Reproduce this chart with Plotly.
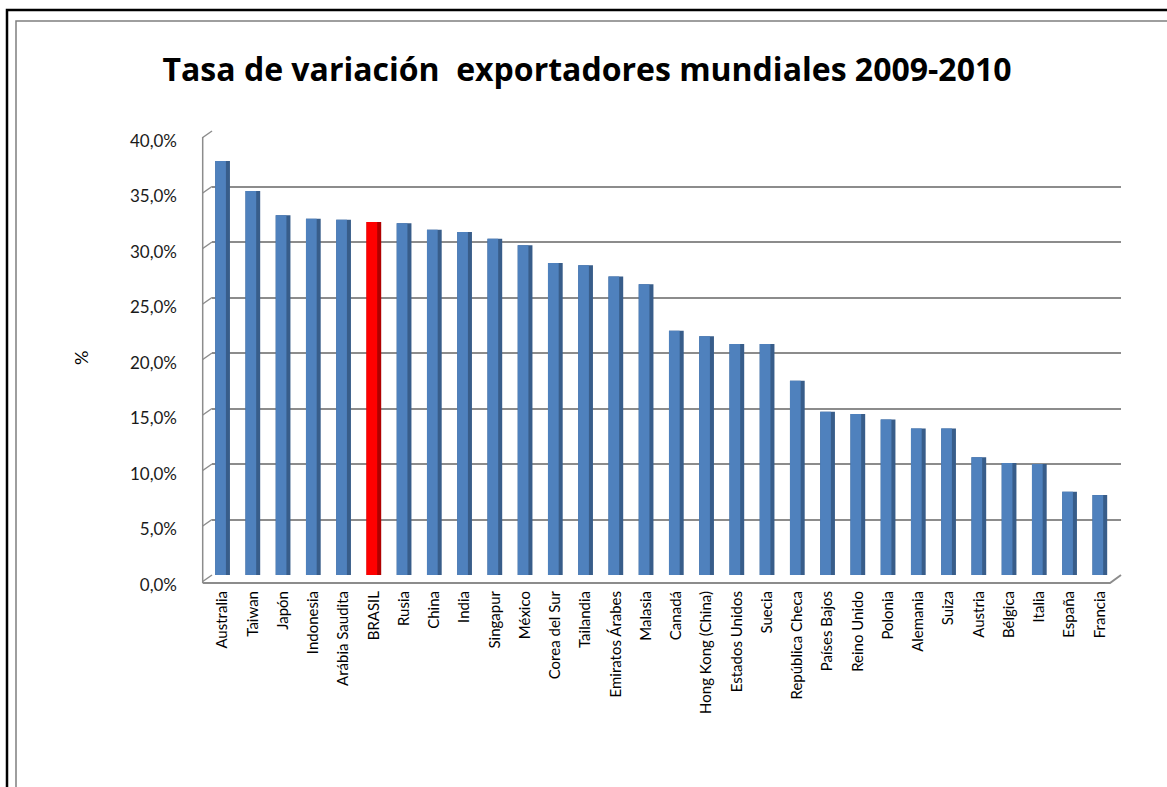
import plotly.graph_objects as go

# Export growth 2009-2010 by country (%)
countries = [
    "Australia", "Taiwan", "Japón", "Indonesia", "Arábia Saudita", "BRASIL",
    "Rusia", "China", "India", "Singapur", "México", "Corea del Sur",
    "Tailandia", "Emiratos Árabes", "Malasia", "Canadá", "Hong Kong (China)",
    "Estados Unidos", "Suecia", "República Checa", "Países Bajos",
    "Reino Unido", "Polonia", "Alemania", "Suiza", "Austria", "Bélgica",
    "Italia", "España", "Francia",
]
growth = [
    37.3, 34.6, 32.4, 32.1, 32.0, 31.8,
    31.7, 31.1, 30.9, 30.3, 29.7, 28.1,
    27.9, 26.9, 26.2, 22.0, 21.5,
    20.8, 20.8, 17.5, 14.7,
    14.5, 14.0, 13.2, 13.2, 10.6, 10.1,
    10.0, 7.5, 7.2,
]
highlight = "BRASIL"

y_tickvals = [0, 5, 10, 15, 20, 25, 30, 35, 40]
y_ticktext = ["0,0%", "5,0%", "10,0%", "15,0%", "20,0%", "25,0%",
              "30,0%", "35,0%", "40,0%"]

# Page geometry (pixels)
WIDTH, HEIGHT = 1167, 787
L, R, T, B = 212, 1121, 131, 575


def px(x):
    return (x - L) / (R - L)


def py(y):
    return (B - y) / (B - T)


front_colors = ["#FF0000" if c == highlight else "#4F81BD" for c in countries]
side_colors = ["#B00000" if c == highlight else "#385D8A" for c in countries]

fig = go.Figure()
# darker side face of each column
fig.add_trace(go.Bar(
    x=countries, y=growth, offset=-0.2435, width=0.487,
    marker=dict(color=side_colors, line=dict(width=0)),
    hoverinfo="skip", showlegend=False,
))
# front face
fig.add_trace(go.Bar(
    x=countries, y=growth, offset=-0.2435, width=0.354,
    marker=dict(color=front_colors, line=dict(width=0)),
    hovertemplate="%{x}: %{y:.1f}%<extra></extra>", showlegend=False,
))

shapes = []
grid = "#8C8C8C"
# frames around the chart
shapes.append(dict(type="rect", xref="paper", yref="paper",
                   x0=px(7), x1=px(1200), y0=py(10), y1=py(820),
                   line=dict(color="black", width=2.5), layer="below"))
shapes.append(dict(type="rect", xref="paper", yref="paper",
                   x0=px(16), x1=px(1200), y0=py(21), y1=py(820),
                   line=dict(color="#7F7F7F", width=1.5), layer="below"))
# side wall: front edge and slanted stubs at each gridline
shapes.append(dict(type="line", xref="paper", yref="paper",
                   x0=px(202.7), x1=px(202.7), y0=py(583), y1=py(137),
                   line=dict(color=grid, width=1.5)))
for v in y_tickvals:
    gy = B - v * (B - T) / 40
    shapes.append(dict(type="line", xref="paper", yref="paper",
                       x0=px(202.7), x1=px(L), y0=py(gy + 6.5), y1=py(gy),
                       line=dict(color=grid, width=1.5)))
# floor front edge
shapes.append(dict(type="path", xref="paper", yref="paper",
                   path=f"M {px(202.7)},{py(583)} L {px(1110)},{py(583)} "
                        f"L {px(R)},{py(B)}",
                   line=dict(color="#8C8C8C", width=2)))

fig.update_layout(
    width=WIDTH, height=HEIGHT,
    margin=dict(l=L, r=WIDTH - R, t=T, b=HEIGHT - B, pad=0),
    paper_bgcolor="white", plot_bgcolor="white",
    barmode="overlay",
    font=dict(family="Lato, 'Open Sans', sans-serif", color="#000000"),
    title=dict(
        text="<b>Tasa de variación  exportadores mundiales 2009-2010</b>",
        x=587 / WIDTH, xref="container", xanchor="center",
        y=1 - 70 / HEIGHT, yref="container", yanchor="middle",
        font=dict(family="'Open Sans', sans-serif", size=32, color="#000000"),
    ),
    xaxis=dict(
        type="category", range=[-0.35, 29.7],
        tickangle=-90, tickfont=dict(size=15, color="#000000"),
        showgrid=False, showline=False, ticks="", ticklabelstandoff=12,
    ),
    yaxis=dict(
        range=[0, 40], tickvals=y_tickvals, ticktext=y_ticktext,
        tickfont=dict(size=17, color="#1a1a1a"),
        showgrid=True, gridcolor=grid, gridwidth=1.5,
        zeroline=False, showline=False, ticks="",
        ticklabelstandoff=34, ticklabelshift=10,
    ),
    shapes=shapes,
    annotations=[dict(
        text="%", textangle=-90, xref="paper", yref="paper",
        x=px(81), y=py(358), xanchor="center", yanchor="middle",
        showarrow=False, font=dict(size=18, color="#000000"),
    )],
)

fig.write_html("out.html")
